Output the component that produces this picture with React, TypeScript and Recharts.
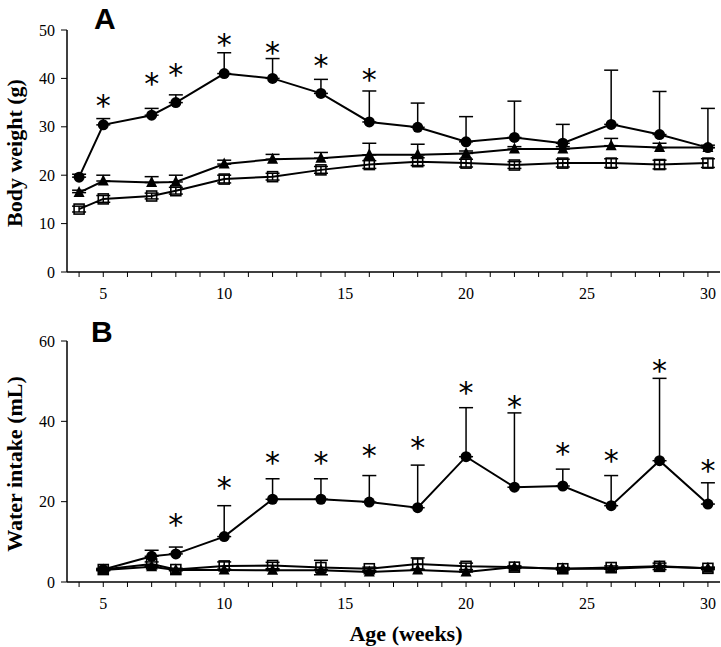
import { ComposedChart, Line, XAxis, YAxis, ErrorBar } from "recharts";

// Panel A - body weight (g)
const weeksA = [4, 5, 7, 8, 10, 12, 14, 16, 18, 20, 22, 24, 26, 28, 30];
const circleA = [19.6, 30.4, 32.4, 35.0, 41.0, 40.0, 36.9, 31.0, 29.9, 26.9, 27.8, 26.6, 30.5, 28.4, 25.7];
const circleErrA = [0.6, 1.3, 1.4, 1.6, 4.3, 4.1, 2.9, 6.4, 5.0, 5.2, 7.5, 3.9, 11.2, 8.9, 8.1];
const triA = [16.4, 18.8, 18.5, 18.6, 22.3, 23.3, 23.5, 24.2, 24.2, 24.5, 25.4, 25.4, 26.1, 25.7, 25.7];
const triErrA = [0.5, 1.2, 1.2, 1.4, 0.8, 1.0, 1.2, 2.4, 2.2, 0.5, 0.5, 0.5, 1.5, 0.9, 0.5];
const sqA = [13.0, 15.1, 15.7, 16.8, 19.2, 19.7, 21.1, 22.2, 22.8, 22.5, 22.1, 22.5, 22.5, 22.2, 22.5];
const sqErrA = [0.6, 0.7, 0.6, 0.7, 0.8, 0.7, 0.7, 0.8, 0.8, 0.8, 0.7, 0.8, 0.9, 0.9, 0.9];
const starA = [null, 35.1, 39.7, 41.5, 47.7, 46.1, 43.4, 40.5, null, null, null, null, null, null, null];

// Panel B - water intake (mL)
const weeksB = [5, 7, 8, 10, 12, 14, 16, 18, 20, 22, 24, 26, 28, 30];
const circleB = [3.1, 6.4, 7.0, 11.3, 20.6, 20.6, 19.9, 18.5, 31.2, 23.6, 23.9, 19.0, 30.2, 19.4];
const circleErrB = [0, 1.5, 1.7, 7.7, 5.1, 5.1, 6.6, 10.6, 12.2, 18.5, 4.2, 7.5, 20.5, 5.3];
const sqB = [3.1, 4.5, 3.1, 4.0, 4.1, 3.6, 3.3, 4.5, 3.9, 3.7, 3.3, 3.6, 3.9, 3.4];
const sqErrB = [0.3, 0.5, 0.3, 1.0, 0.8, 1.8, 0.4, 1.5, 0.8, 0.3, 0.3, 0.4, 0.8, 0.3];
const triB = [3.0, 3.8, 3.0, 3.0, 2.9, 2.9, 2.5, 3.0, 2.5, 3.7, 3.3, 3.3, 3.8, 3.4];
const triErrB = [0.2, 0.3, 0.2, 0.2, 0.2, 0.2, 0.2, 0.2, 0.2, 0.2, 0.2, 0.2, 0.3, 0.2];
const starB = [null, null, 15.3, 24.4, 30.5, 30.5, 32.4, 34.3, 48.0, 44.6, 32.9, 31.2, 53.5, 28.7];

const xTicks = [4, 5, 6, 7, 8, 9, 10, 11, 12, 13, 14, 15, 16, 17, 18, 19, 20, 21, 22, 23, 24, 25, 26, 27, 28, 29, 30];
const yTicksA = [0, 10, 20, 30, 40, 50];
const yTicksB = [0, 20, 40, 60];

const dataA = weeksA.map((w, i) => ({
  week: w,
  circle: circleA[i],
  circleErr: [0, circleErrA[i]],
  tri: triA[i],
  triErr: [0, triErrA[i]],
  sq: sqA[i],
  sqErr: [sqErrA[i], sqErrA[i]],
  star: starA[i],
}));

const dataB = weeksB.map((w, i) => ({
  week: w,
  circle: circleB[i],
  circleErr: [0, circleErrB[i]],
  tri: triB[i],
  triErr: [0, triErrB[i]],
  sq: sqB[i],
  sqErr: [sqErrB[i], sqErrB[i]],
  star: starB[i],
}));

const serif = "'Liberation Serif', 'Times New Roman', serif";

const CircleDot = (p: any) => {
  if (p.cy == null) return <g key={`c${p.index}`} />;
  return <circle key={`c${p.index}`} cx={p.cx} cy={p.cy} r={5.5} fill="#000" />;
};

const TriDot = (p: any) => {
  if (p.cy == null) return <g key={`t${p.index}`} />;
  const { cx, cy } = p;
  return (
    <polygon
      key={`t${p.index}`}
      points={`${cx},${cy - 6.5} ${cx - 5.5},${cy + 4.5} ${cx + 5.5},${cy + 4.5}`}
      fill="#000"
    />
  );
};

const SqDot = (p: any) => {
  if (p.cy == null) return <g key={`s${p.index}`} />;
  return (
    <rect key={`s${p.index}`} x={p.cx - 5} y={p.cy - 5} width={10} height={10} fill="none" stroke="#000" strokeWidth={1.6} />
  );
};

// significance asterisk drawn at the star value
const StarDot = (p: any) => {
  if (p.cy == null || p.value == null) return <g key={`a${p.index}`} />;
  return (
    <text key={`a${p.index}`} x={p.cx} y={p.cy + 14} textAnchor="middle" fontSize={30} fontFamily="'DejaVu Sans', sans-serif" fill="#000">
      *
    </text>
  );
};

const XTick = (p: any) => {
  const v = p.payload?.value;
  if (v % 5 !== 0) return <g />;
  return (
    <text x={p.x} y={p.y} dy="0.71em" textAnchor="middle" fontSize={16} fontFamily={serif} fill="#000">
      {v}
    </text>
  );
};

function Panel({ data, height, top, yMax, yTicks, axisH }: any) {
  return (
    <ComposedChart width={721} height={height} data={data} margin={{ top, right: 1, bottom: 0, left: 0 }}>
      <XAxis
        dataKey="week"
        type="number"
        domain={[3.5, 30.5]}
        ticks={xTicks}
        interval={0}
        allowDataOverflow
        height={axisH}
        tickSize={5}
        tickMargin={11}
        tick={<XTick />}
        axisLine={{ stroke: "#000", strokeWidth: 1.5 }}
        tickLine={{ stroke: "#000", strokeWidth: 1 }}
      />
      <YAxis
        type="number"
        domain={[0, yMax]}
        ticks={yTicks}
        interval={0}
        width={67}
        tickSize={6}
        tickMargin={6}
        tick={{ fontSize: 16, fontFamily: serif, fill: "#000" }}
        axisLine={{ stroke: "#000", strokeWidth: 1.5 }}
        tickLine={{ stroke: "#000", strokeWidth: 1 }}
      />
      <Line dataKey="sq" stroke="#000" strokeWidth={2} dot={SqDot} isAnimationActive={false} type="linear">
        <ErrorBar dataKey="sqErr" direction="y" width={7} stroke="#000" strokeWidth={1.5} />
      </Line>
      <Line dataKey="tri" stroke="#000" strokeWidth={2} dot={TriDot} isAnimationActive={false} type="linear">
        <ErrorBar dataKey="triErr" direction="y" width={7} stroke="#000" strokeWidth={1.5} />
      </Line>
      <Line dataKey="circle" stroke="#000" strokeWidth={2} dot={CircleDot} isAnimationActive={false} type="linear">
        <ErrorBar dataKey="circleErr" direction="y" width={7} stroke="#000" strokeWidth={1.5} />
      </Line>
      <Line dataKey="star" stroke="none" dot={StarDot} isAnimationActive={false} connectNulls={false} />
    </ComposedChart>
  );
}

export default function App() {
  return (
    <div style={{ position: "absolute", left: 0, top: 0, width: 721, height: 647, background: "#fff" }}>
      <div style={{ position: "absolute", left: 0, top: 0 }}>
        <Panel data={dataA} height={310} top={30} yMax={50} yTicks={yTicksA} axisH={38} />
      </div>
      <div style={{ position: "absolute", left: 0, top: 300 }}>
        <Panel data={dataB} height={347} top={41} yMax={60} yTicks={yTicksB} axisH={65} />
      </div>
      <svg width={721} height={647} style={{ position: "absolute", left: 0, top: 0, pointerEvents: "none" }}>
        <text x={94} y={29} fontSize={30} fontWeight="bold" fontFamily="'Liberation Sans', Arial, sans-serif" fill="#000">A</text>
        <text x={91} y={342} fontSize={30} fontWeight="bold" fontFamily="'Liberation Sans', Arial, sans-serif" fill="#000">B</text>
        <text transform="translate(14,153) rotate(-90)" textAnchor="middle" dominantBaseline="central" fontSize={22} fontWeight="bold" fontFamily={serif} fill="#000">
          Body weight (g)
        </text>
        <text transform="translate(14,464) rotate(-90)" textAnchor="middle" dominantBaseline="central" fontSize={22} fontWeight="bold" fontFamily={serif} fill="#000">
          Water intake (mL)
        </text>
        <text x={406} y={633} textAnchor="middle" dominantBaseline="central" fontSize={22} fontWeight="bold" fontFamily={serif} fill="#000">
          Age (weeks)
        </text>
      </svg>
    </div>
  );
}
